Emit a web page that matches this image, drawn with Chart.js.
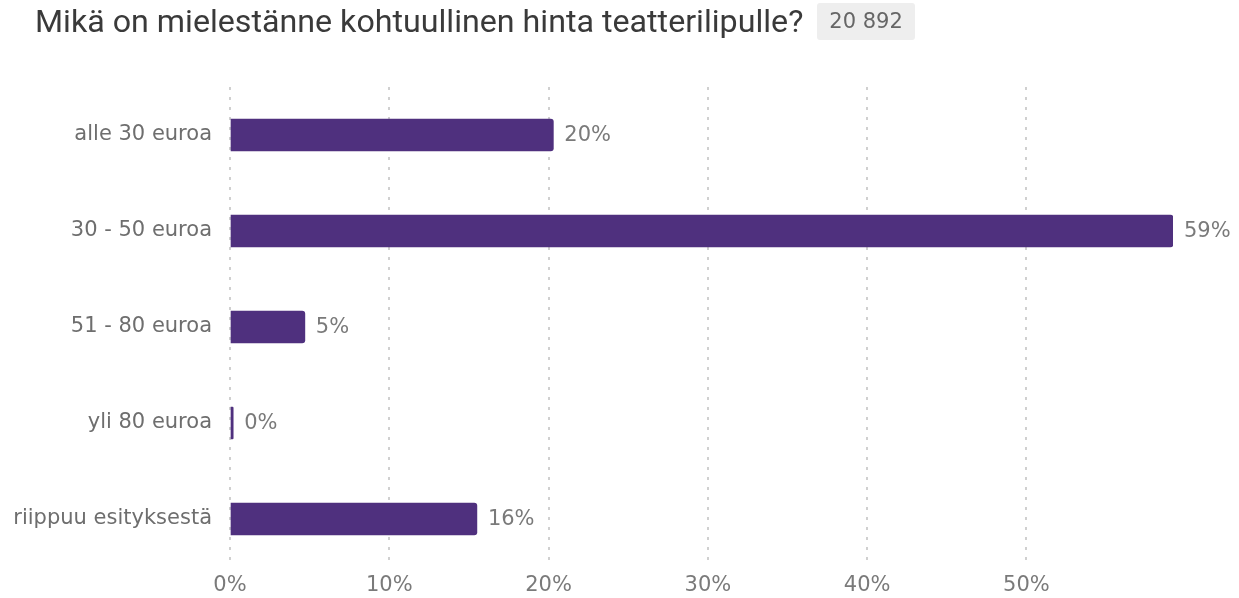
<!DOCTYPE html>
<html>
<head>
<meta charset="utf-8">
<script src="https://cdn.jsdelivr.net/npm/chart.js@4/dist/chart.umd.min.js"></script>
<style>
  html, body { margin: 0; padding: 0; background: #fff; }
  #wrap { position: relative; width: 1239px; height: 598px; }
  #title {
    position: absolute; left: 35px; top: 3px;
    font-family: Roboto, sans-serif;
    font-size: 32.2px; color: #3a3a3a; line-height: 37px;
    white-space: nowrap;
  }
  #badge {
    display: inline-block; vertical-align: top;
    margin-left: 14px; padding: 0 12px;
    background: #eeeeee; border-radius: 3px;
    font-family: 'DejaVu Sans', sans-serif; font-size: 21px; color: #666;
    line-height: 37px;
  }
  canvas { position: absolute; left: 0; top: 0; }
</style>
</head>
<body>
<div id="wrap">
  <canvas id="chart" width="1239" height="598"></canvas>
  <div id="title">Mikä on mielestänne kohtuullinen hinta teatterilipulle?<span id="badge">20 892</span></div>
</div>
<script>
const categories = ['alle 30 euroa', '30 - 50 euroa', '51 - 80 euroa', 'yli 80 euroa', 'riippuu esityksestä'];
const shares = [20.3, 59.2, 4.7, 0.2, 15.5];
const shareLabels = ['20%', '59%', '5%', '0%', '16%'];

const fontFamily = "'DejaVu Sans', sans-serif";

// percent labels next to the bar ends
const valueLabels = {
  id: 'valueLabels',
  afterDatasetsDraw(chart) {
    const ctx = chart.ctx;
    const meta = chart.getDatasetMeta(0);
    ctx.save();
    ctx.font = '21px ' + fontFamily;
    ctx.fillStyle = '#7a7a7a';
    ctx.textAlign = 'left';
    ctx.textBaseline = 'middle';
    meta.data.forEach((bar, i) => {
      ctx.fillText(shareLabels[i], bar.x + 11, bar.y + 1);
    });
    ctx.restore();
  }
};

new Chart(document.getElementById('chart'), {
  type: 'bar',
  data: {
    labels: categories,
    datasets: [{
      data: shares,
      backgroundColor: '#4f307e',
      borderRadius: 3,
      borderSkipped: 'start',
      barThickness: 32
    }]
  },
  options: {
    indexAxis: 'y',
    responsive: false,
    animation: false,
    layout: { padding: { top: 87, right: 66, bottom: 0, left: 0 } },
    plugins: {
      legend: { display: false },
      tooltip: { enabled: false }
    },
    scales: {
      x: {
        min: 0,
        max: 59.2,
        border: { display: false, dash: [3, 7] },
        grid: {
          color: '#d0d0d0',
          lineWidth: 2,
          drawTicks: false
        },
        ticks: {
          stepSize: 10,
          includeBounds: false,
          padding: 6,
          color: '#7a7a7a',
          font: { family: fontFamily, size: 21 },
          callback: v => v + '%'
        },
        afterFit: s => { s.height = 31; }
      },
      y: {
        border: { display: false },
        grid: { display: false, drawTicks: false },
        ticks: {
          padding: 18,
          color: '#6e6e6e',
          font: { family: fontFamily, size: 21 }
        },
        afterFit: s => { s.width = 230; }
      }
    }
  },
  plugins: [valueLabels]
});
</script>
</body>
</html>
